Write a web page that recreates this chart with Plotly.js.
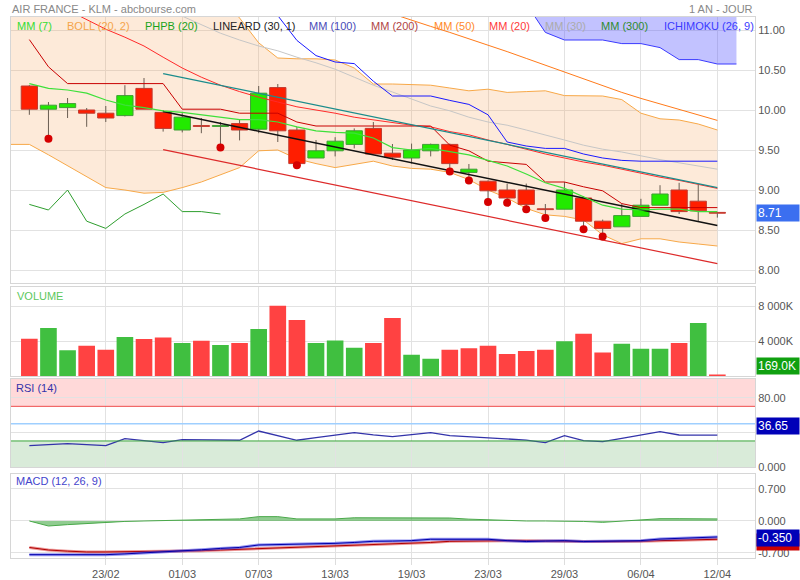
<!DOCTYPE html>
<html><head><meta charset="utf-8">
<script src="https://cdn.plot.ly/plotly-3.0.1.min.js"></script>
<style>html,body{margin:0;padding:0;background:#fff}#chart{width:800px;height:580px}</style>
</head><body><div id="chart"></div>
<script>
// ---------- data ----------
const dates = ['19/02','20/02','21/02','22/02','23/02','26/02','27/02','28/02','01/03','02/03','05/03','06/03','07/03','08/03','09/03','12/03','13/03','14/03','15/03','16/03','19/03','20/03','21/03','22/03','23/03','26/03','27/03','28/03','29/03','03/04','04/04','05/04','06/04','09/04','10/04','11/04','12/04'];
const prevDate = '16/02';
const nextDate = '13/04';
const tickDates = ['23/02','01/03','07/03','13/03','19/03','23/03','29/03','06/04','12/04'];

const openP  = [10.30,10.01,10.03,10.00,9.96,9.93,10.27,9.97,9.75,9.805,9.795,9.83,9.76,10.28,9.75,9.40,9.49,9.57,9.77,9.46,9.40,9.49,9.57,9.22,9.11,9.00,9.00,8.765,8.76,8.90,8.61,8.54,8.67,8.81,9.00,8.86,8.72];
const highP  = [10.31,10.10,10.15,10.025,10.05,10.31,10.40,10.00,9.96,9.90,9.85,9.875,10.30,10.325,9.79,9.625,9.66,9.77,9.85,9.575,9.58,9.58,9.58,9.325,9.12,9.08,9.08,8.825,9.10,8.925,8.63,8.83,8.89,9.06,9.09,9.07,8.72];
const lowP   = [9.94,9.64,9.90,9.79,9.85,9.92,10.01,9.73,9.72,9.71,9.53,9.62,9.71,9.60,9.31,9.40,9.42,9.52,9.45,9.375,9.33,9.42,9.23,9.12,8.85,8.84,8.76,8.65,8.76,8.51,8.42,8.54,8.67,8.81,8.70,8.61,8.655];
const closeP = [10.01,10.06,10.08,9.96,9.90,10.18,10.01,9.77,9.91,9.795,9.805,9.75,10.21,9.74,9.33,9.49,9.61,9.74,9.45,9.41,9.50,9.57,9.33,9.26,8.99,8.90,8.82,8.755,9.00,8.61,8.52,8.68,8.81,8.95,8.73,8.74,8.71];
const volumeK = [4260,5490,2930,3460,3010,4460,4230,4410,3770,4040,3540,3770,5370,8040,6400,3770,4070,3240,3770,6630,2430,1980,3010,3160,3460,2510,2860,3010,3960,4840,2700,3690,3120,3120,3770,6060,169];

// Bollinger (20,2) from prevDate
const bollUpper = [13.5,13.4,13.2,13.1,13.0,12.95,12.8,12.6,12.35,12.0,11.7,11.4,11.15,10.84,10.65,10.64,10.64,10.625,10.525,10.325,10.325,10.32,10.31,10.275,10.24,10.26,10.22,10.23,10.24,10.18,10.175,10.175,10.13,9.96,9.89,9.875,9.825,9.75];
const bollLower = [9.57,9.57,9.44,9.30,9.17,9.03,9.00,8.96,8.97,9.03,9.10,9.19,9.28,9.49,9.50,9.39,9.33,9.28,9.32,9.36,9.30,9.27,9.26,9.22,9.13,9.00,8.90,8.77,8.69,8.67,8.625,8.44,8.33,8.39,8.39,8.35,8.325,8.30];

const mm7 = [10.33,10.27,10.25,10.21,10.125,10.06,10.03,9.99,9.97,9.94,9.91,9.88,9.88,9.85,9.79,9.74,9.72,9.71,9.65,9.53,9.50,9.52,9.48,9.44,9.37,9.30,9.20,9.09,9.02,8.92,8.81,8.76,8.75,8.76,8.76,8.73,8.73];
const mm20Start = '21/02';
const mm20 = [11.25,11.125,11.01,10.91,10.80,10.66,10.525,10.41,10.31,10.23,10.16,10.10,10.04,10.00,9.96,9.91,9.875,9.84,9.81,9.79,9.73,9.69,9.625,9.57,9.51,9.45,9.40,9.35,9.31,9.26,9.21,9.16,9.12,9.07,9.02];
const mm30Start = '28/02';
const mm30 = [11.28,11.17,11.07,10.96,10.875,10.80,10.74,10.66,10.59,10.51,10.41,10.31,10.225,10.14,10.05,9.99,9.91,9.85,9.81,9.75,9.69,9.625,9.56,9.51,9.475,9.425,9.38,9.34,9.30,9.26];
const mm50Start = '15/03';
const mm50 = [11.28,11.20,11.12,11.045,10.97,10.89,10.815,10.73,10.645,10.56,10.475,10.39,10.30,10.22,10.145,10.075,10.01,9.94,9.87];
const mm300 = [8.82,8.75,9.00,8.61,8.52,8.70,8.82,8.95,8.73,8.73,8.70];

const tenkan = [10.88,10.54,10.33,10.33,10.33,10.33,10.33,10.33,10.01,10.01,10.01,9.96,9.96,9.96,9.85,9.80,9.80,9.80,9.80,9.80,9.80,9.80,9.56,9.49,9.36,9.34,9.32,9.10,9.10,9.04,8.99,8.83,8.78,8.78,8.78,8.78,8.78];
const kijunStart = '07/03';
const kijun = [11.45,11.18,10.87,10.68,10.60,10.58,10.36,10.175,10.175,10.175,10.12,10.07,9.94,9.60,9.55,9.52,9.52,9.45,9.40,9.37,9.36,9.36,9.36,9.36,9.36];
const cloudDates = ['27/03','28/03','29/03','03/04','04/04','05/04','06/04','09/04','10/04','11/04','12/04','13/04'];
const cloudLower = [11.33,10.97,10.875,10.875,10.875,10.83,10.83,10.78,10.63,10.63,10.575,10.575];
const cloudUpper = [11.85,11.80,11.78,11.75,11.72,11.70,11.68,11.65,11.62,11.60,11.58,11.55];

const linDates = ['28/02','12/04'];
const linMid = [9.98,8.555];
const linUpper = [10.455,9.03];
const linLower = [9.505,8.08];

const phpbLowDates = ['20/02','05/03','09/03','21/03','22/03','23/03','26/03','27/03','28/03','03/04','04/04'];

const rsi = [24.6,25.8,26.9,25.8,24.6,32.7,30.4,28.1,31.5,31.0,30.8,30.8,41.5,36.0,30.8,33.8,37.0,39.6,37.0,35.0,37.3,39.6,36.2,35.0,33.5,32.3,31.0,28.1,36.2,30.4,29.2,33.0,37.0,40.8,36.9,36.9,36.65];
const macd = [-0.737,-0.737,-0.737,-0.737,-0.737,-0.72,-0.70,-0.68,-0.655,-0.63,-0.60,-0.58,-0.525,-0.52,-0.515,-0.51,-0.49,-0.47,-0.445,-0.44,-0.43,-0.40,-0.40,-0.40,-0.40,-0.43,-0.45,-0.44,-0.43,-0.45,-0.445,-0.44,-0.43,-0.395,-0.385,-0.37,-0.35];
const signal = [-0.58,-0.635,-0.66,-0.678,-0.678,-0.675,-0.67,-0.665,-0.66,-0.65,-0.635,-0.62,-0.606,-0.595,-0.58,-0.575,-0.56,-0.545,-0.53,-0.51,-0.49,-0.47,-0.445,-0.435,-0.43,-0.43,-0.43,-0.44,-0.445,-0.45,-0.45,-0.45,-0.445,-0.43,-0.416,-0.41,-0.40];
const histo = [0.0,-0.11,-0.08,-0.055,-0.03,-0.01,0.0,0.01,0.02,0.03,0.04,0.045,0.095,0.095,0.045,0.04,0.045,0.07,0.07,0.07,0.07,0.07,0.065,0.04,0.025,0.01,0.0,0.0,0.0,-0.01,-0.03,0.0,0.03,0.05,0.05,0.045,0.045];

// ---------- helpers ----------
const fullDates = [prevDate].concat(dates, [nextDate]);
const X = d => fullDates.indexOf(d) - 1;
const xs = dates.map(X);
const from = (start, n) => dates.slice(dates.indexOf(start), dates.indexOf(start) + n).map(X);
const last = dates.length - 1;
const FONT = 'Liberation Sans, Arial, sans-serif';

const up = closeP.map((c, i) => c >= openP[i]);
const bodyBase = openP.map((o, i) => Math.min(o, closeP[i]));
const bodyH = openP.map((o, i) => Math.abs(closeP[i] - o));
const wx = [], wy = [];
xs.forEach((x, i) => {
  const top = Math.max(openP[i], closeP[i]), bot = Math.min(openP[i], closeP[i]);
  wx.push(x, x, null, x, x, null);
  wy.push(highP[i], top, null, bot, lowP[i], null);
});
const volColors = closeP.map((c, i) => {
  const upv = i === 0 ? up[0] : c >= closeP[i - 1];
  return upv ? '#40bf40' : '#ff4242';
});

const line = (x, y, color, width, extra) => Object.assign({
  type: 'scatter', mode: 'lines', x: x, y: y, xaxis: 'x', yaxis: 'y5',
  line: {color: color, width: width || 1}, hoverinfo: 'skip', showlegend: false
}, extra || {});

const traces = [
  // band + cloud (base subplot, below candles)
  {type:'scatter', mode:'lines', x:[prevDate].concat(dates).map(X), y:bollUpper, xaxis:'x', yaxis:'y',
   line:{color:'#f7a848', width:1}, hoverinfo:'skip', showlegend:false},
  {type:'scatter', mode:'lines', x:[prevDate].concat(dates).map(X), y:bollLower, xaxis:'x', yaxis:'y',
   line:{color:'#f7a848', width:1}, fill:'tonexty', fillcolor:'rgba(247,160,80,0.22)', hoverinfo:'skip', showlegend:false},
  {type:'scatter', mode:'lines', x:cloudDates.map(X), y:cloudUpper, xaxis:'x', yaxis:'y',
   line:{color:'rgba(0,0,0,0)', width:0}, hoverinfo:'skip', showlegend:false},
  {type:'scatter', mode:'lines', x:cloudDates.map(X), y:cloudLower, xaxis:'x', yaxis:'y',
   line:{color:'#3a3aff', width:1}, fill:'tonexty', fillcolor:'rgba(80,80,255,0.35)', hoverinfo:'skip', showlegend:false},
  // candles (overlay subplot)
  {type:'bar', x:xs, base:bodyBase, y:bodyH, width:0.85, xaxis:'x', yaxis:'y5',
   marker:{color:up.map(u => u ? '#22ea00' : '#ff1e00'), line:{color:up.map(u => u ? '#3f9e35' : '#c2392e'), width:1}},
   hoverinfo:'skip', showlegend:false},
  line(wx, wy, '#6a5d52', 1),
  line(dates.slice(0, mm300.length).map(X), mm300, '#2e9e2e', 1),
  line(from(mm30Start, mm30.length), mm30, '#c6c6c6', 1),
  line(from(mm50Start, mm50.length), mm50, '#ff7a1a', 1),
  line(from(kijunStart, kijun.length), kijun, '#1a1aff', 1),
  line(from(mm20Start, mm20.length), mm20, '#ff2a2a', 1),
  line(xs, tenkan, '#c80000', 1),
  line(linDates.map(X), linUpper, '#1a8c8c', 1.2),
  line(linDates.map(X), linMid, '#111111', 1.5),
  line(linDates.map(X), linLower, '#dd2a2a', 1.2),
  line(xs, mm7, '#3ee03a', 1.2),
  {type:'scatter', mode:'markers', x:phpbLowDates.map(X), y:phpbLowDates.map(d => lowP[dates.indexOf(d)]),
   xaxis:'x', yaxis:'y5', marker:{color:'#d60000', size:8}, hoverinfo:'skip', showlegend:false},
  // volume
  {type:'bar', x:xs, y:volumeK, width:0.87, xaxis:'x2', yaxis:'y2', marker:{color:volColors},
   hoverinfo:'skip', showlegend:false},
  // RSI
  {type:'scatter', mode:'lines', x:xs, y:rsi, xaxis:'x3', yaxis:'y3', line:{color:'#3333aa', width:1.3},
   hoverinfo:'skip', showlegend:false},
  // MACD
  {type:'scatter', mode:'lines', x:xs, y:histo, xaxis:'x4', yaxis:'y4', line:{color:'#4aa84a', width:1},
   fill:'tozeroy', fillcolor:'rgba(70,170,70,0.6)', hoverinfo:'skip', showlegend:false},
  {type:'scatter', mode:'lines', x:xs, y:signal, xaxis:'x4', yaxis:'y4', line:{color:'rgba(220,60,60,0.55)', width:3},
   hoverinfo:'skip', showlegend:false},
  {type:'scatter', mode:'lines', x:xs, y:signal, xaxis:'x4', yaxis:'y4', line:{color:'#b00000', width:1},
   hoverinfo:'skip', showlegend:false},
  {type:'scatter', mode:'lines', x:xs, y:macd, xaxis:'x4', yaxis:'y4', line:{color:'rgba(60,60,230,0.55)', width:3},
   hoverinfo:'skip', showlegend:false},
  {type:'scatter', mode:'lines', x:xs, y:macd, xaxis:'x4', yaxis:'y4', line:{color:'#0000aa', width:1},
   hoverinfo:'skip', showlegend:false}
];

// ---------- layout ----------
const XR = [-0.96, 37.97];
const tickX = tickDates.map(X);
const GRID = '#e2e2e2', BORDER = '#d6d6d6';
const tf = {family: FONT, size: 11, color: '#555'};
const xBase = (anchor, labels) => ({
  anchor: anchor, domain: [0, 1], range: XR, fixedrange: true,
  tickmode: 'array', tickvals: tickX, ticktext: tickDates,
  showticklabels: labels, ticks: labels ? 'outside' : '', ticklen: 6, tickcolor: '#dddddd',
  tickfont: tf, showgrid: true, gridcolor: GRID, zeroline: false,
  showline: true, mirror: true, linecolor: BORDER
});
const yBase = (domain, range, vals, text) => ({
  domain: domain, range: range, side: 'right', fixedrange: true,
  tickmode: 'array', tickvals: vals, ticktext: text, tickfont: tf, ticks: '',
  showgrid: true, gridcolor: GRID, zeroline: false,
  showline: true, mirror: true, linecolor: BORDER
});
const priceRange = [7.834, 11.1625];
const priceTicks = [8, 8.5, 9, 9.5, 10, 10.5, 11];

const legendItems = [
  ['MM (7)', '#33dd33', 15], ['BOLL (20, 2)', '#f5a54a', 65], ['PHPB (20)', '#1aa31a', 143],
  ['LINEARD (30, 1)', '#222222', 210.5], ['MM (100)', '#4a4ab8', 306.5], ['MM (200)', '#b04444', 369],
  ['MM (50)', '#ff8a2a', 431.5], ['MM (20)', '#ff3a3a', 487], ['MM (30)', '#ababab', 543],
  ['MM (300)', '#2e8b2e', 599], ['ICHIMOKU (26, 9)', '#3a3aff', 661.5]
];
const W = 744; // plot width
const annotations = legendItems.map(([t, c, px]) => ({
  text: t, xref: 'paper', yref: 'paper', x: (px - 11) / W, y: (558 - 25.7) / 541,
  xanchor: 'left', yanchor: 'middle', showarrow: false, font: {family: FONT, size: 11, color: c}
}));
annotations.push(
  {text:'AIR FRANCE - KLM - abcbourse.com', xref:'paper', yref:'paper', x:-0.0015, y:(558-9)/541,
   xanchor:'left', yanchor:'middle', showarrow:false, font:{family:FONT, size:11, color:'#888'}},
  {text:'1 AN - JOUR', xref:'paper', yref:'paper', x:1, y:(558-9)/541,
   xanchor:'right', yanchor:'middle', showarrow:false, font:{family:FONT, size:11, color:'#888'}},
  {text:'VOLUME', xref:'paper', yref:'paper', x:(15-11)/W, y:(558-295.7)/541,
   xanchor:'left', yanchor:'middle', showarrow:false, font:{family:FONT, size:11, color:'#5cc85c'}},
  {text:'RSI (14)', xref:'paper', yref:'paper', x:(14-11)/W, y:(558-388)/541,
   xanchor:'left', yanchor:'middle', showarrow:false, font:{family:FONT, size:11, color:'#3333aa'}},
  {text:'MACD (12, 26, 9)', xref:'paper', yref:'paper', x:(14-11)/W, y:(558-480.5)/541,
   xanchor:'left', yanchor:'middle', showarrow:false, font:{family:FONT, size:11, color:'#4444cc'}},
  {text:closeP[last].toFixed(2), xref:'paper', yref:'y', x:1, y:closeP[last], xanchor:'left', yanchor:'middle',
   xshift:1, showarrow:false, bgcolor:'#3b6ff0', width:40, height:14, align:'left', borderpad:1,
   font:{family:FONT, size:12, color:'#fff'}},
  {text:volumeK[last].toFixed(1) + 'K', xref:'paper', yref:'y2', x:1, y:volumeK[last], xanchor:'left', yanchor:'bottom',
   xshift:1, showarrow:false, bgcolor:'#10a010', width:40, height:14, align:'left', borderpad:1,
   font:{family:FONT, size:12, color:'#fff'}},
  {text:rsi[last].toFixed(2), xref:'paper', yref:'y3', x:1, y:rsi[last], xanchor:'left', yanchor:'bottom',
   xshift:1, showarrow:false, bgcolor:'#0000b8', width:40, height:14, align:'left', borderpad:1,
   font:{family:FONT, size:12, color:'#fff'}},
  {text:' ', xref:'paper', yref:'y4', x:1, y:signal[last], xanchor:'left', yanchor:'middle', yshift:-3,
   xshift:1, showarrow:false, bgcolor:'#cc0000', width:40, height:14, borderpad:1,
   font:{family:FONT, size:12, color:'#fff'}},
  {text:macd[last].toFixed(3), xref:'paper', yref:'y4', x:1, y:macd[last], xanchor:'left', yanchor:'middle', yshift:-1,
   xshift:1, showarrow:false, bgcolor:'#0000b8', width:40, height:14, align:'left', borderpad:1,
   font:{family:FONT, size:12, color:'#fff'}}
);

const shapes = [
  {type:'rect', xref:'paper', yref:'y3', x0:0, x1:1, y0:70, y1:101.6, fillcolor:'#ffd9d9', line:{width:0}, layer:'below'},
  {type:'rect', xref:'paper', yref:'y3', x0:0, x1:1, y0:-0.4, y1:30, fillcolor:'#d9ebd9', line:{width:0}, layer:'below'},
  {type:'line', xref:'paper', yref:'y3', x0:0, x1:1, y0:70, y1:70, line:{color:'#ee4c4c', width:1}},
  {type:'line', xref:'paper', yref:'y3', x0:0, x1:1, y0:50, y1:50, line:{color:'#9fcfff', width:1.5}},
  {type:'line', xref:'paper', yref:'y3', x0:0, x1:1, y0:30, y1:30, line:{color:'#3aa63a', width:1}}
];

const layout = {
  width: 800, height: 580, margin: {l: 11, r: 45, t: 17, b: 22},
  paper_bgcolor: '#fff', plot_bgcolor: '#fff', showlegend: false, barmode: 'overlay',
  font: {family: FONT},
  xaxis: xBase('y', false),
  yaxis: yBase([0.5078, 1], priceRange, priceTicks, priceTicks.map(v => v.toFixed(2))),
  yaxis5: {overlaying: 'y', anchor: 'x', range: priceRange, visible: false, fixedrange: true},
  xaxis2: xBase('y2', false),
  yaxis2: yBase([0.3364, 0.5004], [0, 10140], [4000, 8000], ['4 000K', '8 000K']),
  xaxis3: xBase('y3', false),
  yaxis3: yBase([0.1677, 0.3309], [-0.4, 101.6], [0, 40, 80], ['0.000', '', '80.00']),
  xaxis4: xBase('y4', true),
  yaxis4: yBase([0, 0.1553], [-0.81, 1.028], [-0.7, 0, 0.7], ['-0.700', '0.000', '0.700']),
  annotations: annotations, shapes: shapes
};

Plotly.newPlot('chart', traces, layout, {staticPlot: true, displayModeBar: false});
</script></body></html>
